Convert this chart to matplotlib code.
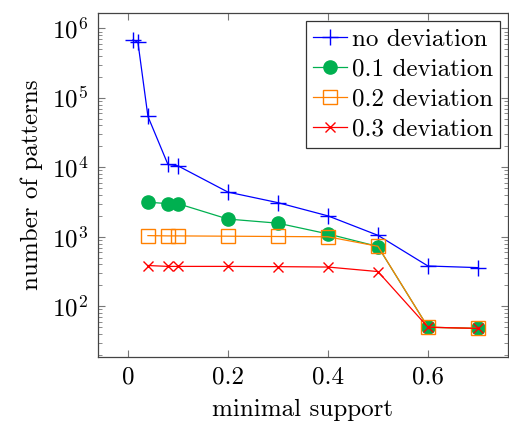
import matplotlib
matplotlib.use("Agg")
import matplotlib.pyplot as plt
from matplotlib.ticker import LogLocator, NullFormatter, FixedLocator

plt.rcParams['font.family'] = ['cmr10', 'DejaVu Serif']
plt.rcParams['mathtext.fontset'] = 'cm'
plt.rcParams['axes.formatter.use_mathtext'] = True

# 数据
support_none = [0.01, 0.02, 0.04, 0.08, 0.1, 0.2, 0.3, 0.4, 0.5, 0.6, 0.7]
patterns_none = [680000, 630000, 54000, 11000, 10500, 4400, 3100, 2000, 1050, 380, 360]

support_dev = [0.04, 0.08, 0.1, 0.2, 0.3, 0.4, 0.5, 0.6, 0.7]
patterns_01 = [3150, 3000, 3000, 1800, 1570, 1100, 725, 50, 48]
patterns_02 = [1040, 1030, 1030, 1020, 1010, 1000, 730, 50, 48]
patterns_03 = [386, 375, 375, 375, 372, 367, 316, 50, 48]

labels = ['no deviation', '0.1 deviation', '0.2 deviation', '0.3 deviation']
xticks = [0, 0.2, 0.4, 0.6]

fig = plt.figure(figsize=(5.1, 4.21), dpi=100)
ax = fig.add_axes([0.192, 0.152, 0.804, 0.817])

ax.plot(support_none, patterns_none, color='#0000FF', marker='+', markersize=11,
        markeredgewidth=1.0, linewidth=0.9, label=labels[0], zorder=3)
ax.plot(support_dev, patterns_01, color='#00B050', marker='o', markersize=9.5,
        linewidth=0.9, label=labels[1], zorder=4)
ax.plot(support_dev, patterns_02, color='#FF8000', marker='s', markersize=9.5,
        markerfacecolor='none', markeredgewidth=1.0, linewidth=0.9, label=labels[2], zorder=5)
ax.plot(support_dev, patterns_03, color='#FF0000', marker='x', markersize=7,
        markeredgewidth=1.0, linewidth=0.9, label=labels[3], zorder=6)

ax.set_yscale('log')
ax.set_xlim(-0.06, 0.76)
ax.set_ylim(10**1.27, 10**6.22)
ax.xaxis.set_major_locator(FixedLocator(xticks))
ax.set_xticklabels(['0', '0.2', '0.4', '0.6'])
ax.yaxis.set_major_locator(LogLocator(base=10, numticks=10))
ax.yaxis.set_minor_locator(LogLocator(base=10, subs=range(2, 10), numticks=20))
ax.yaxis.set_minor_formatter(NullFormatter())

for s in ax.spines.values():
    s.set_color('#444444')
    s.set_linewidth(0.9)
ax.tick_params(which='both', direction='in', top=True, right=True, colors='#777777',
               labelcolor='black', labelsize=18)
ax.tick_params(which='major', length=5, width=0.8, pad=7)
ax.tick_params(which='minor', length=3, width=0.6)
ax.tick_params(axis='x', which='minor', top=False, bottom=False)

ax.set_xlabel('minimal support', fontsize=18, labelpad=7)
ax.set_ylabel('number of patterns', fontsize=18, labelpad=6)

leg = ax.legend(loc='upper right', fontsize=18, frameon=True, fancybox=False,
                edgecolor='#333333', framealpha=1, borderaxespad=0.3,
                handlelength=1.35, handletextpad=0.2, labelspacing=0.3, borderpad=0.3)
leg.get_frame().set_linewidth(0.9)

fig.savefig('out.png', dpi=100)
